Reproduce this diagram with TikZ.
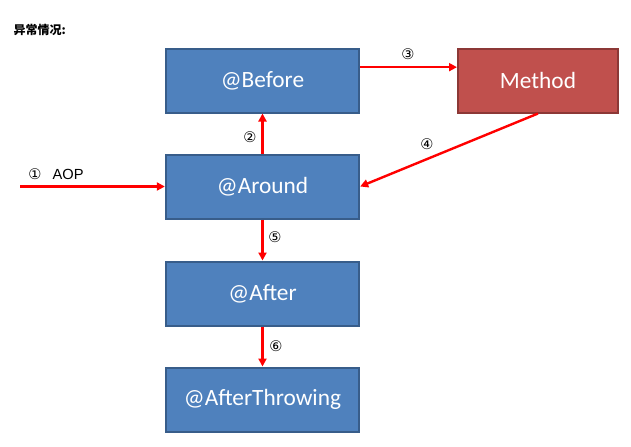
\documentclass[tikz,border=0pt]{standalone}
\usepackage{fontspec}
\setmainfont{Carlito}
\newfontfamily\symfont{DejaVu Sans}
\newfontfamily\labelfont{Liberation Sans}
\newfontfamily\cjkfont{Noto Sans CJK SC}
\usetikzlibrary{arrows.meta}
\definecolor{boxblue}{HTML}{4F81BD}
\definecolor{edgeblue}{HTML}{385D8A}
\definecolor{boxred}{HTML}{C0504D}
\definecolor{edgered}{HTML}{8C3836}
\tikzset{
  advice/.style={draw=edgeblue,fill=boxblue,line width=1.5pt,minimum width=145pt,minimum height=48pt,
    text=white,font=\fontsize{17.5}{20}\selectfont},
  target/.style={advice,draw=edgered,fill=boxred,minimum width=120pt},
  flow/.style={draw=red,line width=1.8pt,-{Triangle[length=6pt,width=6pt]}},
  num/.style={font=\symfont\fontsize{11}{12}\selectfont}
}
\begin{document}
\begin{tikzpicture}[x=0.75pt,y=-0.75pt]
            \useasboundingbox (0,0) rectangle (631,446);
            \node[anchor=west,font=\cjkfont\bfseries\fontsize{9}{10}\selectfont] (title) at (9,30) {异常情况:};
            \node[advice] (before) at (262.5,80.5) {@Before};
            \node[advice] (around) at (262.5,186.5) {@Around};
            \node[advice] (after) at (262.5,293.5) {@After};
            \node[advice] (throwing) at (262.5,399.5) {@AfterThrowing};
            \node[target] (method) at (538,80.5) {Method};
            \coordinate (aop) at (20,186.5);
            % arrows
            \draw[flow] (aop) -- (around.west);
            \draw[flow] (around.north) -- (before.south);
            \draw[flow] ([yshift=10pt]before.east) -- ([yshift=10pt]method.west);
            \draw[flow] (method.south) -- (around.east);
            \draw[flow] (around.south) -- (after.north);
            \draw[flow] (after.south) -- (throwing.north);
            % labels
            \node[num] (n1) at (35,174) {①};
            \node[anchor=west,font=\labelfont\fontsize{11}{12}\selectfont] (aoplabel) at (48,174) {AOP};
            \node[num] (n2) at (250,137) {②};
            \node[num] (n3) at (408,54) {③};
            \node[num] (n4) at (427,144) {④};
            \node[num] (n5) at (275,237) {⑤};
            \node[num] (n6) at (276,346) {⑥};
          \end{tikzpicture}
\end{document}
